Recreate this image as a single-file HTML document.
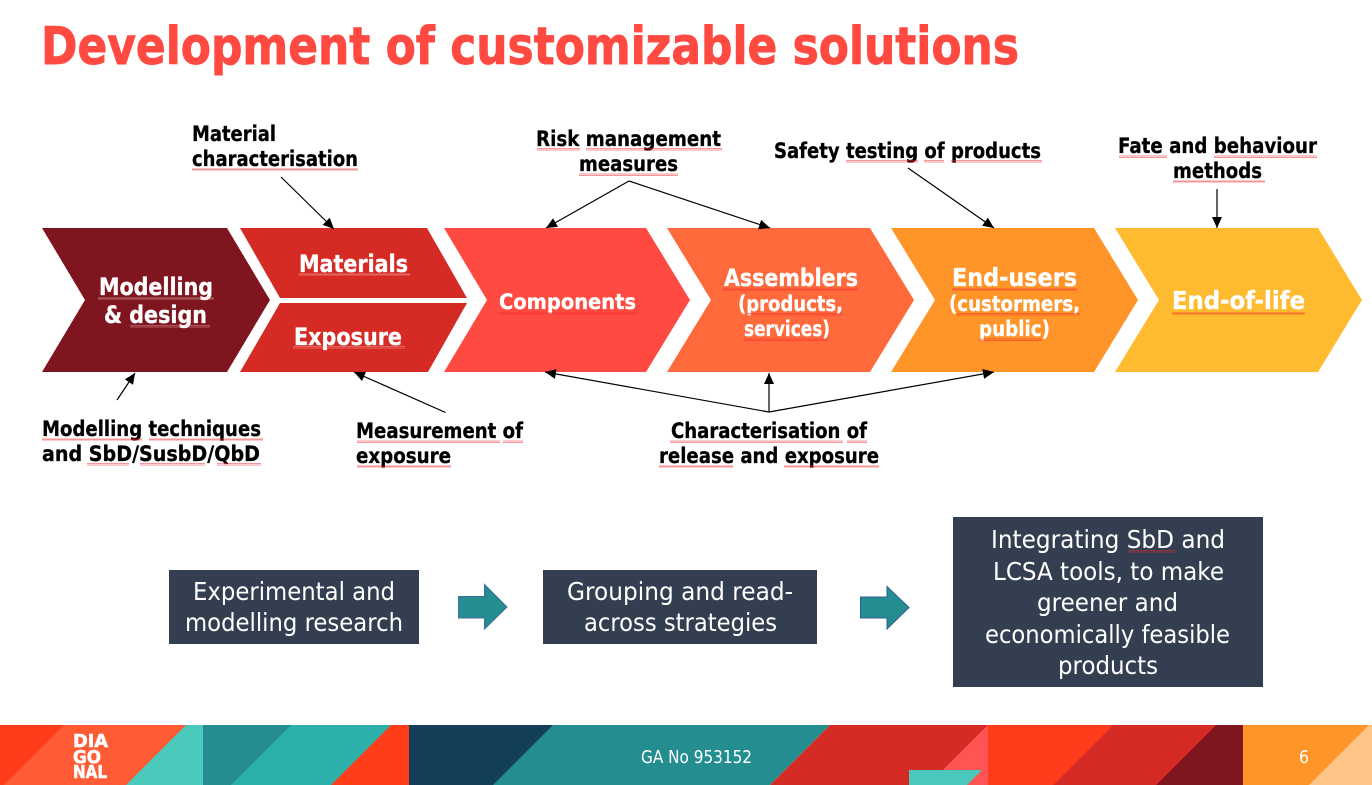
<!DOCTYPE html>
<html><head><meta charset="utf-8"><style>
html,body{margin:0;padding:0;background:#fff}
svg{display:block}
text{font-family:"DejaVu Sans","Liberation Sans",sans-serif}
.b{font-weight:700;fill:#000;font-size:21px;stroke:#000;stroke-width:.3px}
.w{font-weight:700;fill:#fff;stroke:#fff;stroke-width:.35px}
.t{fill:#fff;font-size:25px}
</style></head><body>
<svg xmlns="http://www.w3.org/2000/svg" width="1372" height="785" viewBox="0 0 1372 785">
<defs>
<pattern id="sq" width="4" height="3" patternUnits="userSpaceOnUse"><path d="M0 2.6 L1 .4 L2 2.6 L3 .4 L4 2.6" fill="none" stroke="#f0262c" stroke-width=".55" stroke-opacity=".75"/></pattern>
<pattern id="sw" width="4" height="3" patternUnits="userSpaceOnUse"><path d="M0 2.6 L1 .4 L2 2.6 L3 .4 L4 2.6" fill="none" stroke="#ffc8c8" stroke-width=".55" stroke-opacity=".55"/></pattern>
<marker id="ah" markerUnits="userSpaceOnUse" markerWidth="12" markerHeight="10" refX="11" refY="5" orient="auto"><path d="M0 0 L11 5 L0 10 Z" fill="#000"/></marker>
</defs>
<rect width="1372" height="785" fill="#fff"/>
<text x="41" y="64" font-size="52" font-weight="700" fill="#FF4A41" stroke="#FF4A41" stroke-width=".9" textLength="978" lengthAdjust="spacingAndGlyphs">Development of customizable solutions</text>

<polygon points="42,228 227,228 270,300 227,372 42,372 85,300" fill="#7F161F"/>
<polygon points="240,228 427,228 467,298 280,298" fill="#D62B24"/>
<polygon points="280,303 467,303 428,372 240,372" fill="#D62B24"/>
<polygon points="444,228 646,228 690,300 646,372 444,372 487,300" fill="#FF4A41"/>
<polygon points="667,228 870,228 914,300 870,372 667,372 711,300" fill="#FF6A3C"/>
<polygon points="891,228 1094,228 1138,300 1094,372 891,372 935,300" fill="#FF9428"/>
<polygon points="1115,228 1318,228 1362,300 1318,372 1115,372 1159,300" fill="#FFBB30"/>

<g stroke="#000" stroke-width="1.2" fill="none" marker-end="url(#ah)">
<line x1="281" y1="177" x2="334" y2="229"/>
<line x1="629" y1="181" x2="546" y2="228"/>
<line x1="629" y1="181" x2="770" y2="228"/>
<line x1="908" y1="168" x2="994" y2="228"/>
<line x1="1217" y1="189" x2="1217" y2="228"/>
<line x1="117" y1="400" x2="135" y2="373"/>
<line x1="445.500" y1="412.500" x2="354" y2="372"/>
<line x1="769" y1="412" x2="545" y2="372"/>
<line x1="769" y1="412" x2="769" y2="373"/>
<line x1="769" y1="412" x2="994" y2="372"/>
</g>

<text class="b" x="192" y="141" textLength="84" lengthAdjust="spacingAndGlyphs">Material</text>
<text class="b" x="192" y="166" textLength="166" lengthAdjust="spacingAndGlyphs">characterisation</text>
<text class="b" x="536" y="146" textLength="185" lengthAdjust="spacingAndGlyphs">Risk management</text>
<text class="b" x="579" y="171" textLength="99" lengthAdjust="spacingAndGlyphs">measures</text>
<text class="b" x="774" y="158" textLength="267" lengthAdjust="spacingAndGlyphs">Safety testing of products</text>
<text class="b" x="1118" y="153" textLength="199" lengthAdjust="spacingAndGlyphs">Fate and behaviour</text>
<text class="b" x="1173" y="178" textLength="89" lengthAdjust="spacingAndGlyphs">methods</text>
<text class="b" x="42" y="436" textLength="219" lengthAdjust="spacingAndGlyphs">Modelling techniques</text>
<text class="b" x="42" y="461" textLength="218" lengthAdjust="spacingAndGlyphs">and SbD/SusbD/QbD</text>
<text class="b" x="356" y="438" textLength="167" lengthAdjust="spacingAndGlyphs">Measurement of</text>
<text class="b" x="356" y="463" textLength="95" lengthAdjust="spacingAndGlyphs">exposure</text>
<text class="b" x="671" y="438" textLength="196" lengthAdjust="spacingAndGlyphs">Characterisation of</text>
<text class="b" x="659" y="463" textLength="220" lengthAdjust="spacingAndGlyphs">release and exposure</text>

<text class="w" font-size="24" x="99" y="295" textLength="114" lengthAdjust="spacingAndGlyphs">Modelling</text>
<text class="w" font-size="24" x="104" y="323" textLength="103" lengthAdjust="spacingAndGlyphs">&amp; design</text>
<text class="w" font-size="24" x="299" y="272" textLength="109" lengthAdjust="spacingAndGlyphs">Materials</text>
<text class="w" font-size="24" x="294" y="345" textLength="108" lengthAdjust="spacingAndGlyphs">Exposure</text>
<text class="w" font-size="21" x="499" y="309" textLength="137" lengthAdjust="spacingAndGlyphs">Components</text>
<text class="w" font-size="24" x="724" y="286" textLength="134" lengthAdjust="spacingAndGlyphs">Assemblers</text>
<text class="w" font-size="21" x="738" y="311" textLength="105" lengthAdjust="spacingAndGlyphs">(products,</text>
<text class="w" font-size="21" x="744" y="336" textLength="86" lengthAdjust="spacingAndGlyphs">services)</text>
<text class="w" font-size="25" x="952" y="286" textLength="125" lengthAdjust="spacingAndGlyphs">End-users</text>
<text class="w" font-size="21" x="949" y="311" textLength="131" lengthAdjust="spacingAndGlyphs">(custormers,</text>
<text class="w" font-size="21" x="979" y="336" textLength="71" lengthAdjust="spacingAndGlyphs">public)</text>
<text class="w" font-size="25" x="1172" y="309" textLength="133" lengthAdjust="spacingAndGlyphs">End-of-life</text>

<g fill="url(#sq)">
<rect x="192" y="168" width="166" height="3"/>
<rect x="537" y="148" width="43" height="3"/><rect x="586" y="148" width="136" height="3"/><rect x="579" y="173" width="99" height="3"/>
<rect x="846" y="160" width="72" height="3"/><rect x="924" y="160" width="20" height="3"/><rect x="951" y="160" width="91" height="3"/>
<rect x="1119" y="155" width="48" height="3"/><rect x="1214" y="155" width="103" height="3"/><rect x="1173" y="180" width="92" height="3"/>
<rect x="42" y="438" width="100" height="3"/><rect x="149" y="438" width="114" height="3"/>
<rect x="87" y="463" width="42" height="3"/><rect x="140" y="463" width="65" height="3"/><rect x="217" y="463" width="44" height="3"/>
<rect x="357" y="440" width="143" height="3"/><rect x="503" y="440" width="20" height="3"/><rect x="357" y="465" width="94" height="3"/>
<rect x="670" y="440" width="173" height="3"/><rect x="847" y="440" width="20" height="3"/><rect x="659" y="465" width="74" height="3"/><rect x="784" y="465" width="95" height="3"/>
<rect x="499" y="312" width="138" height="3"/>
<rect x="723" y="288" width="135" height="3"/><rect x="747" y="313" width="96" height="3"/><rect x="744" y="338" width="84" height="3"/>
<rect x="952" y="288" width="125" height="3"/><rect x="957" y="313" width="123" height="3"/><rect x="979" y="338" width="63" height="3"/>
<rect x="1172" y="312" width="133" height="3"/>
<rect x="669" y="765" width="24" height="3"/>
</g>
<g fill="url(#sw)">
<rect x="98" y="297" width="116" height="3"/><rect x="130" y="325" width="80" height="3"/>
<rect x="299" y="273" width="111" height="3"/><rect x="293" y="346" width="112" height="3"/>
</g>

<rect x="169" y="570" width="250" height="74" fill="#333F50"/>
<rect x="543" y="570" width="274" height="74" fill="#333F50"/>
<rect x="953" y="517" width="310" height="170" fill="#333F50"/>
<text class="t" x="193" y="600" textLength="202" lengthAdjust="spacingAndGlyphs">Experimental and</text>
<text class="t" x="185" y="631" textLength="218" lengthAdjust="spacingAndGlyphs">modelling research</text>
<text class="t" x="567" y="600" textLength="226" lengthAdjust="spacingAndGlyphs">Grouping and read-</text>
<text class="t" x="584" y="631" textLength="193" lengthAdjust="spacingAndGlyphs">across strategies</text>
<text class="t" x="991" y="548" textLength="234" lengthAdjust="spacingAndGlyphs">Integrating SbD and</text>
<text class="t" x="993" y="580" textLength="231" lengthAdjust="spacingAndGlyphs">LCSA tools, to make</text>
<text class="t" x="1037" y="611" textLength="141" lengthAdjust="spacingAndGlyphs">greener and</text>
<text class="t" x="985" y="643" textLength="245" lengthAdjust="spacingAndGlyphs">economically feasible</text>
<text class="t" x="1058" y="674" textLength="100" lengthAdjust="spacingAndGlyphs">products</text>
<rect x="1128" y="550" width="47" height="3" fill="url(#sq)"/>

<polygon points="458.500,596.500 484.500,596.500 484.500,584.500 507,607 484.500,629 484.500,618 458.500,618" fill="#238D90" stroke="#3E6E9E" stroke-width="1"/>
<polygon points="860.500,597 887,597 887,586.500 909,607.500 887,629 887,618 860.500,618" fill="#238D90" stroke="#2F5F8F" stroke-width="1"/>

<!-- footer -->
<rect x="0" y="725" width="203" height="60" fill="#FF3D1A"/>
<polygon points="64,725 186,725 126,785 4,785" fill="#FF5C35"/>
<polygon points="186,725 203,725 203,785 126,785" fill="#4BC8BC"/>
<rect x="203" y="725" width="206" height="60" fill="#238D90"/>
<polygon points="291,725 391,725 331,785 231,785" fill="#2DB0A9"/>
<polygon points="391,725 409,725 409,785 331,785" fill="#FF3D1A"/>
<rect x="409" y="725" width="144" height="60" fill="#143F58"/>
<polygon points="553,725 830,725 770,785 493,785" fill="#238D90"/>
<polygon points="830,725 988,725 988,785 770,785" fill="#D62B24"/>
<polygon points="988,725 988,785 928,785" fill="#FF5552"/>
<polygon points="909,770 982,770 967,785 909,785" fill="#4BC8BC"/>
<rect x="988" y="725" width="255" height="60" fill="#FF3D1A"/>
<polygon points="1113,725 1216,725 1156,785 1053,785" fill="#D62B24"/>
<polygon points="1216,725 1243,725 1243,785 1156,785" fill="#80161F"/>
<rect x="1243" y="725" width="129" height="60" fill="#FF9428"/>
<polygon points="1369,725 1372,725 1372,785 1309,785" fill="#FFC587"/>
<g font-size="18" font-weight="700" fill="#fff">
<text x="73" y="747" textLength="35" lengthAdjust="spacingAndGlyphs" stroke="#fff" stroke-width=".6">DIA</text>
<text x="73" y="763" textLength="28" lengthAdjust="spacingAndGlyphs" stroke="#fff" stroke-width=".6">GO</text>
<text x="73" y="778" textLength="34" lengthAdjust="spacingAndGlyphs" stroke="#fff" stroke-width=".6">NAL</text>
</g>
<text x="641" y="763" font-size="18" fill="#fff" textLength="111" lengthAdjust="spacingAndGlyphs">GA No 953152</text>
<text x="1299" y="763" font-size="18" fill="#fff" textLength="10" lengthAdjust="spacingAndGlyphs">6</text>
</svg>
</body></html>
